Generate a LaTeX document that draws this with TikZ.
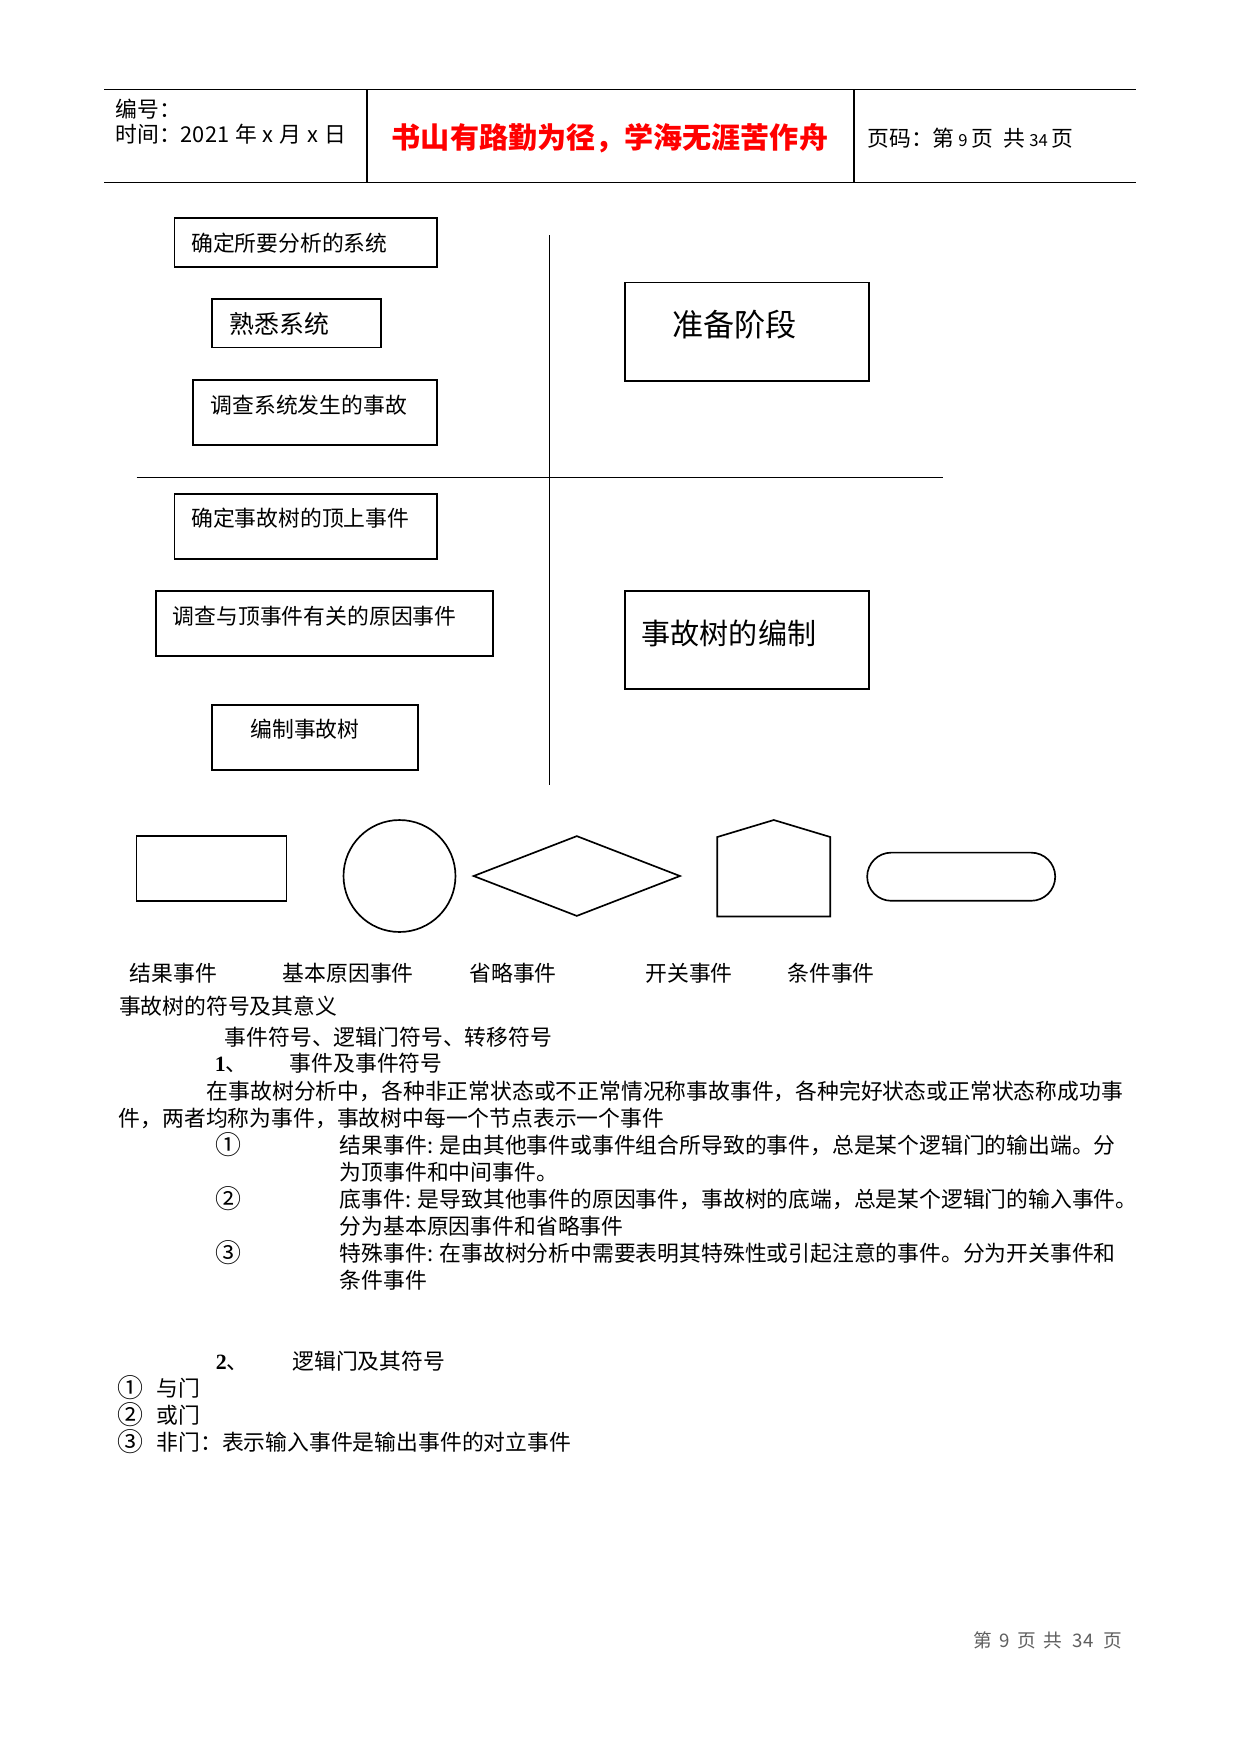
\documentclass[tikz,border=0pt]{standalone}
\usepackage{fontspec}
\setmainfont{Noto Sans CJK SC}
\newfontfamily\tnr{Liberation Serif}
\usetikzlibrary{fit,shapes.geometric,shapes.misc}
\definecolor{redtxt}{RGB}{255,0,0}
\definecolor{footgray}{RGB}{95,95,95}
\newcommand\gp{\hspace{0.27em}}
\begin{document}
\begin{tikzpicture}[x=0.47967bp,y=-0.47967bp,
  frame/.style={draw,line width=0.9pt,inner sep=0pt},
  rule/.style={line width=0.6pt},
  t/.style={anchor=base west,inner sep=0pt,font=\fontsize{10.5}{12}\selectfont},
  tp/.style={anchor=base west,inner sep=0pt,font=\fontsize{10.5}{12}\selectfont},
  cn/.style={anchor=base west,inner sep=0pt,font=\fontsize{12.5}{14}\selectfont},
  sym/.style={draw,line width=0.8pt,inner sep=0pt}]
\useasboundingbox (0,0) rectangle (1241,1754);

% ---------- header ----------
\coordinate (hTL) at (104,89.5);  \coordinate (hTR) at (1136,89.5);
\coordinate (hBL) at (104,182.4); \coordinate (hBR) at (1136,182.4);
\coordinate (v1t) at (367,89.5);  \coordinate (v1b) at (367,182.4);
\coordinate (v2t) at (854,89.5);  \coordinate (v2b) at (854,182.4);
\draw[line width=0.5pt] (hTL) -- (hTR);
\draw[line width=0.5pt] (hBL) -- (hBR);
\draw[line width=0.9pt] (v1t) -- (v1b);
\draw[line width=0.5pt] (v2t) -- (v2b);
\node[t] (hno) at (115,117.8) {编号：};
\node[t] (htime) at (115,142) {时间：2021\gp 年\gp x\gp 月\gp x\gp 日};
\node[anchor=base,inner sep=0pt,text=redtxt,font=\fontsize{14}{16}\bfseries] (hmotto) at (610,148.8) {书山有路勤为径，学海无涯苦作舟};
\node[t] (hpage) at (867,146) {页码：第\,{\fontsize{8}{9}\selectfont 9}\,页\enspace 共\,{\fontsize{8}{9}\selectfont 34}\,页};

% ---------- flow section ----------
\coordinate (vt) at (549.4,235);   \coordinate (vb) at (549.4,784.6);
\coordinate (hl) at (136.5,477.8); \coordinate (hr) at (943,477.8);
\draw[rule] (vt) -- (vb);
\draw[rule] (hl) -- (hr);

\node[frame,fit={(174.5,217.6) (437,267.3)}] (b1) {};
\node[frame,fit={(211.8,299.4) (380.8,347.5)}] (b2) {};
\node[frame,fit={(192.9,380.4) (437,445.3)}] (b3) {};
\node[frame,fit={(625,282.5) (869,380.7)}] (b4) {};
\node[frame,fit={(174.5,494.2) (437,559.2)}] (b5) {};
\node[frame,fit={(155.6,591.3) (493.2,656.3)}] (b6) {};
\node[frame,fit={(625,591.3) (869,688.7)}] (b7) {};
\node[frame,fit={(211.8,705.2) (418,770.1)}] (b8) {};

\node[t] (t1) at (190.9,251.1) {确定所要分析的系统};
\node[t,font=\fontsize{12}{14}\selectfont] (t2) at (229.2,333.7) {熟悉系统};
\node[t] (t3) at (210.3,413.5) {调查系统发生的事故};
\node[t,font=\fontsize{15}{17}\selectfont] (t4) at (672,336.1) {准备阶段};
\node[t] (t5) at (190.9,526.3) {确定事故树的顶上事件};
\node[t] (t6) at (172.5,624.8) {调查与顶事件有关的原因事件};
\node[t,font=\fontsize{14}{16}\selectfont] (t7) at (641.3,644.8) {事故树的编制};
\node[t] (t8) at (250,737.5) {编制事故树};

% ---------- symbols ----------
\node[sym,fit={(136.5,836) (286.5,900.8)}] (s1) {};
\node[sym,circle,minimum size=53.7bp] (s2) at (399.5,876) {};
\node[sym,diamond,minimum width=99.3bp,minimum height=38.6bp] (s3) at (576.8,876) {};
\draw[line width=0.8pt] (717.3,916.5) -- (717.3,837) -- (773.8,820) -- (830.3,837) -- (830.3,916.5) -- cycle;
\node[sym,rounded rectangle,minimum width=90.2bp,minimum height=23.1bp] (s5) at (961.2,876.7) {};

\node[t] (l1) at (129.3,981.8) {结果事件};
\node[t] (l2) at (282.5,981.8) {基本原因事件};
\node[t] (l3) at (469,981.8) {省略事件};
\node[t] (l4) at (645,981.8) {开关事件};
\node[t] (l5) at (787,981.8) {条件事件};
\node[t] (cap) at (118.6,1014.3) {事故树的符号及其意义};

% ---------- text ----------
\node[t] (p1) at (224.5,1045) {事件符号、逻辑门符号、转移符号};
\node[t] (p2n) at (214.5,1071.5) {{\tnr\bfseries 1}、};
\node[t] (p2) at (289.5,1071.5) {事件及事件符号};
\node[tp] (p3) at (206.5,1099) {在事故树分析中，各种非正常状态或不正常情况称事故事件，各种完好状态或正常状态称成功事};
\node[tp] (p4) at (118.5,1126.5) {件，两者均称为事件，事故树中每一个节点表示一个事件};
\node[cn] (c1) at (215,1154) {①};
\node[tp] (p5) at (339.5,1153.5) {结果事件: 是由其他事件或事件组合所导致的事件，总是某个逻辑门的输出端。分};
\node[tp] (p6) at (339.5,1180.5) {为顶事件和中间事件。};
\node[cn] (c2) at (215,1208) {②};
\node[tp] (p7) at (339.5,1207.5) {底事件: 是导致其他事件的原因事件，事故树的底端，总是某个逻辑门的输入事件。};
\node[tp] (p8) at (339.5,1234.5) {分为基本原因事件和省略事件};
\node[cn] (c3) at (215,1262) {③};
\node[tp] (p9) at (339.5,1261.5) {特殊事件: 在事故树分析中需要表明其特殊性或引起注意的事件。分为开关事件和};
\node[tp] (p10) at (339.5,1288) {条件事件};

\node[t] (q0n) at (215.5,1369.3) {{\tnr\bfseries 2}、};
\node[t] (q0) at (292,1369.3) {逻辑门及其符号};
\node[cn] (q1n) at (117,1397) {①};
\node[t] (q1) at (156.3,1396.3) {与门};
\node[cn] (q2n) at (117,1424) {②};
\node[t] (q2) at (156.3,1423.3) {或门};
\node[cn] (q3n) at (117,1451) {③};
\node[t] (q3) at (156.3,1450.3) {非门：表示输入事件是输出事件的对立事件};

% ---------- footer ----------
\node[t,text=footgray,font=\fontsize{9}{11}\selectfont] (foot) at (973.5,1647.6) {第 \,9\, 页 \,共\,\, 34\, \,页};
\end{tikzpicture}
\end{document}
